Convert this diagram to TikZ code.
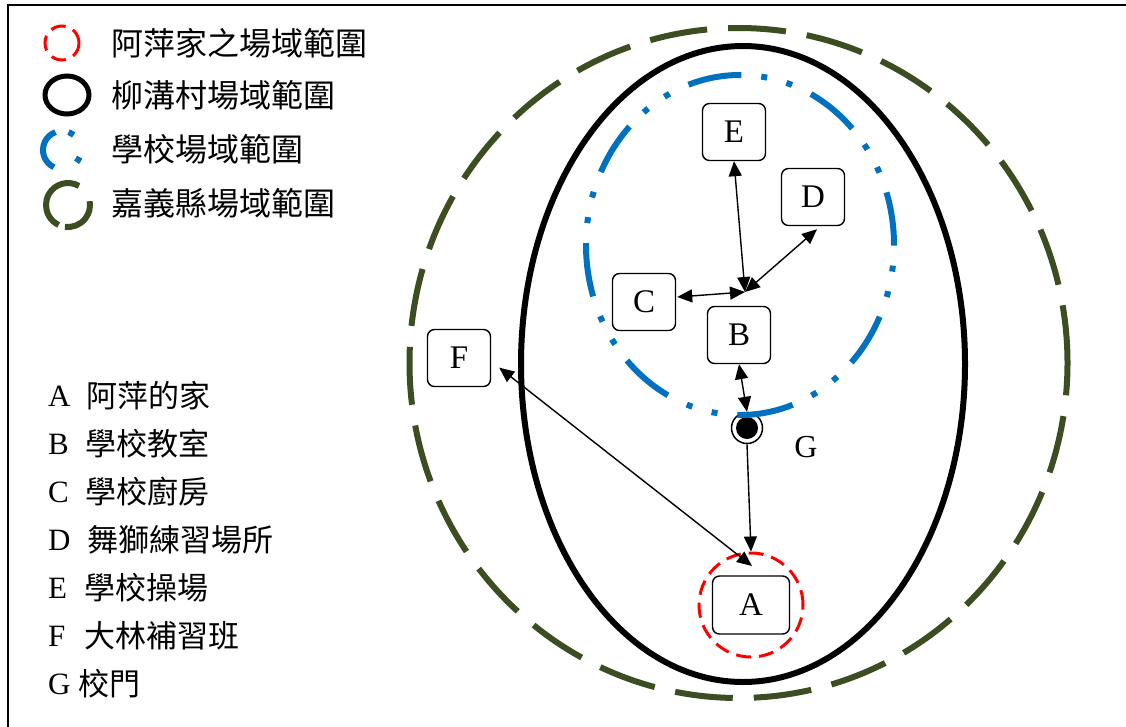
\documentclass[tikz,border=0pt]{standalone}
\usepackage{fontspec}
\setmainfont{Liberation Serif}
\newfontfamily\cjk{Noto Sans CJK TC}
\usetikzlibrary{arrows.meta,calc}
\definecolor{countyGreen}{RGB}{59,77,33}
\definecolor{schoolBlue}{RGB}{0,112,192}
\definecolor{homeRed}{RGB}{255,0,0}
\tikzset{
  place/.style={draw, line width=1.4pt, rounded corners=7pt, minimum width=63pt, minimum height=57pt, inner sep=0pt, font=\fontsize{33}{33}\selectfont},
  tipx/.tip={Triangle[length=15pt,width=13pt]},
  link/.style={line width=1.4pt, tipx-tipx},
  onelink/.style={line width=1.4pt, -tipx},
  county/.style={draw=countyGreen, line width=6pt, dash pattern=on 58pt off 21pt},
  village/.style={draw=black, line width=6pt},
  school/.style={draw=schoolBlue, line width=6pt, dash pattern=on 54pt off 21pt on 6pt off 20pt on 6pt off 20pt},
  home/.style={draw=homeRed, line width=3pt, dash pattern=on 15pt off 8pt},
  legtext/.style={anchor=west, inner sep=0pt, font=\cjk\fontsize{31}{31}\selectfont},
  legtop/.style={legtext, font=\cjk\fontsize{32}{32}\selectfont},
  legletter/.style={anchor=west, inner sep=0pt, font=\fontsize{31}{31}\selectfont},
}
\begin{document}
\begin{tikzpicture}[x=1pt,y=1pt]
\useasboundingbox (0,0) rectangle (1126,-726);
% frame
\draw[line width=2pt] (8,-730) -- (8,-5) -- (1130,-5);
% regions
\draw[county] (738.5,-363) ellipse [x radius=329, y radius=335];
\draw[village] (743,-364) ellipse [x radius=222, y radius=318];
% gate
\node[circle, draw, line width=1.5pt, minimum size=31pt, inner sep=0pt] (G) at (747,-428) {};
\fill (G.center) circle [radius=11];
\draw[school] (740,-415) arc [start angle=-90, end angle=270, x radius=154, y radius=170];
\node[circle, home, minimum size=104pt, inner sep=0pt] (Aring) at (751,-605) {};
% places
\node[place] (E) at (734,-132) {E};
\node[place] (D) at (813,-197) {D};
\node[place] (C) at (644,-302) {C};
\node[place] (B) at (739,-335) {B};
\node[place] (F) at (459,-358) {F};
\node[place, minimum width=77pt, minimum height=58pt] (A) at (751,-605) {A};
\node[inner sep=0pt, font=\fontsize{32}{32}\selectfont] (Glabel) at (806,-447) {G};
% connectors
\coordinate (J) at (745,-292);
\coordinate (Atop) at (752,-566);
\coordinate (Fend) at ($(F.-15)+(8,-1)$);
\draw[link] (E.south) -- (J);
\draw[link] ($(D.south)+(4,-3)$) -- (J);
\draw[link] ($(C.east)+(1,5)$) -- (J);
\draw[link] (B.south) -- (G.north);
\draw[onelink] (G.south) -- (Aring.north);
\draw[link] (Fend) -- (Atop);
% legend symbols
\draw[home] (62,-43) circle [radius=17];
\draw[line width=5pt] (67,-95) ellipse [x radius=22, y radius=19];
\draw[schoolBlue, line width=6pt] ([shift={(110:19)}]62,-150) arc [start angle=110, end angle=245, radius=19];
\draw[schoolBlue, line width=6pt] ([shift={(70:19)}]62,-150) arc [start angle=70, end angle=52, radius=19];
\draw[schoolBlue, line width=6pt] ([shift={(-22:19)}]62,-150) arc [start angle=-22, end angle=-40, radius=19];
\draw[countyGreen, line width=6pt] ([shift={(60:22)}]68,-205) arc [start angle=60, end angle=245, radius=22];
\draw[countyGreen, line width=6pt] ([shift={(262:22)}]68,-205) arc [start angle=262, end angle=370, radius=22];
% legend texts
\node[legtop] (L1) at (111,-43) {阿萍家之場域範圍};
\node[legtop] (L2) at (111,-95) {柳溝村場域範圍};
\node[legtop] (L3) at (111,-149) {學校場域範圍};
\node[legtop] (L4) at (111,-203) {嘉義縣場域範圍};
% key
\node[legletter] (kA) at (48,-396) {A};
\node[legtext] (tA) at (86,-396) {阿萍的家};
\node[legletter] (kB) at (48,-444) {B};
\node[legtext] (tB) at (85,-444) {學校教室};
\node[legletter] (kC) at (48,-492) {C};
\node[legtext] (tC) at (85,-492) {學校廚房};
\node[legletter] (kD) at (48,-540) {D};
\node[legtext] (tD) at (87,-540) {舞獅練習場所};
\node[legletter] (kE) at (48,-588) {E};
\node[legtext] (tE) at (84,-588) {學校操場};
\node[legletter] (kF) at (48,-636) {F};
\node[legtext] (tF) at (84,-636) {大林補習班};
\node[legletter] (kG) at (48,-684) {G};
\node[legtext] (tG) at (78,-684) {校門};
\end{tikzpicture}
\end{document}
